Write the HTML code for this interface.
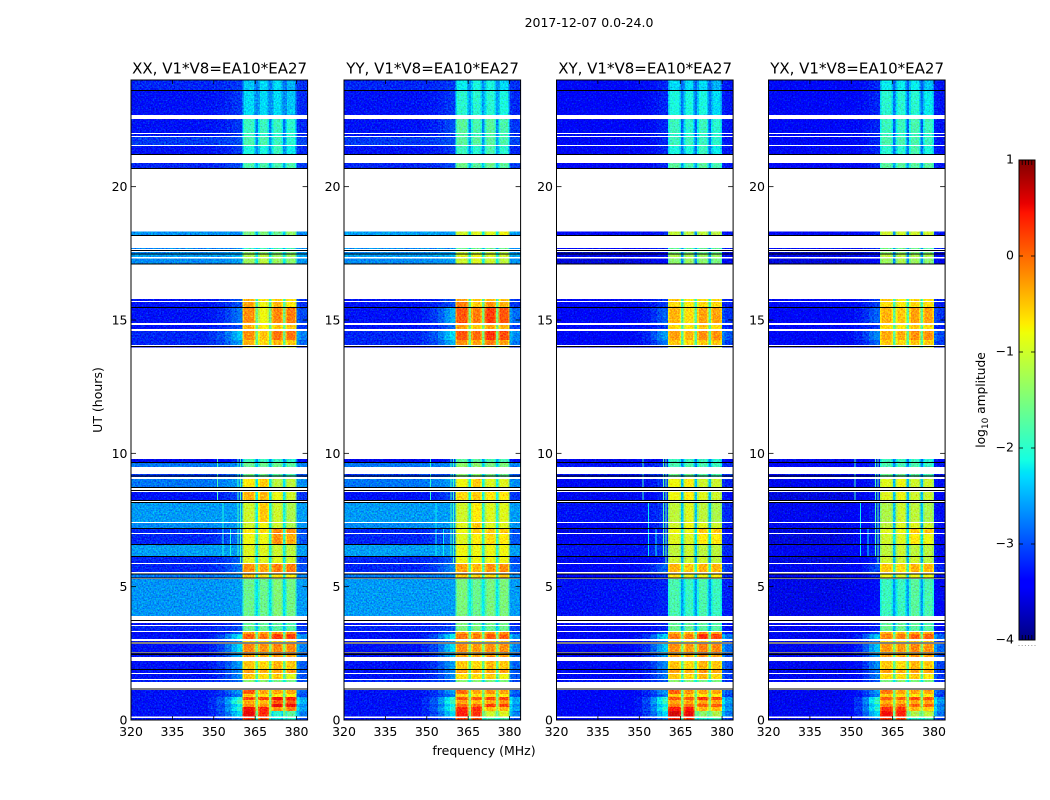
<!DOCTYPE html>
<html>
<head>
<meta charset="utf-8">
<title>2017-12-07 dynamic spectra</title>
<style>
html,body{margin:0;padding:0;background:#fff;}
svg{display:block;}
text{font-family:"DejaVu Sans","Liberation Sans",sans-serif;fill:#000;}
</style>
</head>
<body>
<svg id="figure" xmlns="http://www.w3.org/2000/svg" width="1050" height="800" viewBox="0 0 1050 800">
<defs>
<filter id="speckle" x="0" y="0" width="100%" height="100%" color-interpolation-filters="sRGB">
<feTurbulence type="fractalNoise" baseFrequency="0.62" numOctaves="2" seed="7" result="n"/>
<feColorMatrix in="n" result="m" type="matrix" values="0 0 0 0 0.5  1 0 0 0 0  0 1 0 0 0  0 0 0 0 1"/>
<feComposite in="SourceGraphic" in2="m" operator="arithmetic" k1="0" k2="1" k3="0.8" k4="-0.4" result="c"/>
<feComposite in="c" in2="SourceAlpha" operator="in"/>
</filter>
<linearGradient id="cbar-gradient" x1="0" y1="1" x2="0" y2="0"></linearGradient>
</defs>
<text x="589" y="27" text-anchor="middle" font-size="12.5">2017-12-07 0.0-24.0</text>
<text x="484" y="755" text-anchor="middle" font-size="12.5">frequency (MHz)</text>
<text transform="translate(102 400) rotate(-90)" text-anchor="middle" font-size="12.5">UT (hours)</text>
<text transform="translate(985 400) rotate(-90)" text-anchor="middle" font-size="12.2">log<tspan font-size="9" dy="3">10</tspan><tspan dy="-3"> amplitude</tspan></text>
<g id="panels"></g>
<g id="colorbar"></g>
</svg>
<script>
// ---------- data ----------
const panelTitles = ["XX, V1*V8=EA10*EA27","YY, V1*V8=EA10*EA27","XY, V1*V8=EA10*EA27","YX, V1*V8=EA10*EA27"];
const freqTicks = [320,335,350,365,380];
const hourTicks = [0,5,10,15,20];
const colorTicks = [1,0,-1,-2,-3,-4];
const colorTickLabels = ["1","0","\u22121","\u22122","\u22123","\u22124"];
const freqRange = [320,384];
const hourRange = [0,24];
const colorRange = [-4,1];

// frequency bands (MHz)
const bandStart = [320,348,351,354,356.5,358.5,360.4,361,364.5,365.2,366.1,366.7,369.4,370,371,371.6,374.5,375.1,376,376.6,379.4,380,381];
const bandEnd   = [348,351,354,356.5,358.5,360.4,361,364.5,365.2,366.1,366.7,369.4,370,371,371.6,374.5,375.1,376,376.6,379.4,380,381,384];
// which value of a row each band shows: 2-5 the four sub-bands, 6 gap between them, -1 a mix of off-band and wing
const bandSource = [-1,-1,-1,-1,-1,-1,2,2,2,6,3,3,3,6,4,4,4,6,5,5,5,-1,-1];
const bandWingMix = [0,0.1,0.25,0.5,0.8,1,0,0,0,0,0,0,0,0,0,0,0,0,0,0,0,0.8,0.55];
const bandRim = [0,0,0,0,0,0,-0.3,0,-0.3,0,-0.3,0,-0.3,0,-0.3,0,-0.3,0,-0.3,0,-0.3,0,0];

// time rows (UT hours); anything not listed is blank (flagged)
const rowTop = [24.00,23.59,22.54,21.98,21.86,21.53,20.89,18.32,17.70,17.55,17.46,17.31,15.79,15.68,15.45,14.81,14.59,14.25,14.03,9.79,9.64,9.23,9.04,8.55,8.14,7.39,7.16,6.98,6.56,6.11,5.85,5.48,5.29,3.64,3.53,3.30,3.23,2.96,2.85,2.51,2.21,1.88,1.73,1.50,1.13,0.98,0.86,0.75,0.60,0.49,0.34,0.08];
const rowBottom = [23.63,22.69,22.01,21.90,21.56,21.23,20.70,18.19,17.66,17.49,17.36,17.12,15.71,15.49,14.89,14.66,14.25,14.06,13.97,9.68,9.49,9.11,8.74,8.25,7.43,7.20,7.01,6.60,6.15,5.89,5.55,5.33,3.90,3.56,3.34,3.23,3.04,2.93,2.55,2.36,1.91,1.76,1.54,1.43,0.98,0.86,0.75,0.60,0.49,0.34,0.13,0.00];
const blackLineHours = [23.61,21.21,20.68,18.17,17.61,17.48,17.10,15.47,14.01,9.66,9.15,8.72,8.61,8.23,8.16,7.18,6.58,6.13,5.48,5.33,3.73,2.89,2.52,2.46,1.89,1.16];

// log10 amplitude per row: [off, wing, c1, c2, c3, c4, gap]
const xxLevels = [
[-3.2,-3.1,-2.4,-2.3,-2.3,-2.5,-2.8],[-3.3,-3.1,-2.3,-2.3,-2.3,-2.4,-2.7],[-3.3,-3.1,-1.9,-1.9,-1.9,-2.0,-2.8],[-3.3,-3.1,-1.9,-2.0,-2.0,-2.0,-2.8],
[-3.1,-3.0,-1.8,-1.8,-1.9,-2.0,-2.7],[-3.3,-3.1,-2.1,-2.1,-1.9,-2.2,-2.7],[-3.2,-3.0,-1.8,-1.8,-1.8,-1.8,-2.5],[-2.65,-2.7,-1.5,-1.5,-1.6,-1.35,-2.4],
[-2.7,-2.7,-1.9,-1.9,-1.9,-1.9,-2.5],[-2.7,-2.6,-1.4,-1.4,-1.5,-1.5,-2.3],[-2.6,-2.5,-1.2,-1.1,-1.3,-1.3,-2.2],[-2.7,-2.6,-1.3,-1.1,-1.3,-1.4,-2.2],
[-3.3,-3.0,-0.4,-0.7,-0.5,-0.6,-2.0],[-3.3,-3.0,-0.3,-0.8,-0.4,-0.7,-1.8],[-3.3,-2.8,-0.2,-0.8,-0.15,-0.1,-1.6],[-3.3,-3.0,-0.4,-0.7,-0.5,-0.5,-1.7],
[-3.2,-2.4,-0.2,-0.5,-0.05,-0.05,-1.6],[-3.2,-2.6,-0.4,-0.6,-0.4,-0.5,-1.7],[-3.4,-3.1,-0.9,-0.9,-0.9,-0.9,-2.0],[-3.5,-3.2,-1.9,-1.9,-1.9,-2.0,-2.7],
[-2.8,-2.7,-1.6,-1.6,-1.6,-1.7,-2.4],[-3.1,-2.9,-1.6,-1.6,-1.7,-1.8,-2.5],[-2.8,-2.6,-0.7,-0.5,-1.1,-1.1,-2.2],[-3.3,-3.0,-0.4,-0.4,-0.8,-1.0,-2.2],
[-2.62,-2.6,-1.0,-0.5,-1.0,-1.2,-2.1],[-2.7,-2.6,-1.0,-0.8,-1.0,-1.2,-2.2],[-3.2,-2.8,-0.7,-0.6,-0.15,-0.2,-2.0],[-3.2,-2.8,-0.8,-0.8,-0.2,-0.35,-2.0],
[-2.6,-2.6,-0.9,-0.9,-1.0,-1.1,-2.1],[-3.2,-2.9,-0.9,-0.9,-0.9,-1.0,-2.2],[-3.2,-2.8,-0.2,-0.3,-0.1,-0.1,-1.8],[-2.8,-2.7,-0.5,-0.7,-0.7,-0.7,-2.1],
[-2.65,-2.6,-1.6,-1.6,-1.45,-1.55,-2.25],[-3.3,-3.1,-1.7,-1.7,-1.7,-1.8,-2.6],[-3.2,-3.0,-1.6,-1.6,-1.7,-1.7,-2.4],[-3.4,-2.9,-0.3,-0.3,-0.2,-0.2,-1.9],
[-3.3,-2.2,0.05,-0.05,0.25,0.2,-1.5],[-3.3,-2.7,-0.6,-0.6,-0.5,-0.5,-1.8],[-3.3,-2.3,-0.15,-0.2,-0.15,-0.15,-1.5],[-3.3,-2.5,-0.3,-0.35,-0.25,-0.3,-1.8],
[-3.3,-2.6,-0.5,-0.6,-0.4,-0.5,-1.7],[-3.3,-2.7,-0.3,-0.35,-0.3,-0.3,-1.8],[-3.3,-2.7,-0.5,-0.6,-0.5,-0.9,-1.8],[-3.2,-2.9,-1.4,-1.4,-1.5,-1.5,-2.2],
[-3.3,-2.6,0.1,-0.3,-0.3,-0.3,-1.5],[-3.3,-2.8,-0.5,-0.6,-0.7,-0.7,-1.7],[-3.3,-2.0,0.2,0.25,0.5,0.4,-1.3],[-3.3,-1.8,-0.35,-0.4,0.1,0.1,-1.5],
[-3.3,-2.2,-0.2,-0.2,0.55,0.5,-1.4],[-3.3,-2.0,0.5,0.4,-0.2,-0.1,-1.2],[-3.3,-2.3,0.55,0.35,-2.0,-1.7,-1.6],[-3.3,-2.8,0.3,0.2,-2.2,-2.0,-2.0]];

const yyLevels = [
[-3.2,-3.1,-2.2,-2.1,-2.1,-2.3,-2.7],[-3.3,-3.1,-2.0,-2.0,-2.0,-2.1,-2.6],[-3.3,-3.0,-1.7,-1.8,-1.7,-1.8,-2.7],[-3.3,-3.1,-1.8,-1.9,-1.8,-1.9,-2.7],
[-3.1,-3.0,-1.7,-1.7,-1.7,-1.8,-2.6],[-3.3,-3.1,-1.9,-2.0,-1.8,-2.0,-2.6],[-3.2,-3.0,-1.6,-1.7,-1.6,-1.7,-2.4],[-2.6,-2.6,-1.0,-0.9,-0.9,-0.8,-2.2],
[-2.7,-2.7,-1.6,-1.6,-1.6,-1.6,-2.4],[-2.7,-2.6,-1.1,-1.1,-1.1,-1.2,-2.2],[-2.6,-2.5,-0.9,-0.8,-0.9,-1.0,-2.1],[-2.7,-2.6,-1.0,-0.9,-1.0,-1.1,-2.1],
[-3.3,-3.0,-0.3,-0.5,-0.4,-0.5,-1.9],[-3.3,-3.0,-0.1,-0.5,-0.2,-0.4,-1.7],[-3.3,-2.5,0.1,-0.1,0.25,0.1,-1.5],[-3.3,-2.9,-0.3,-0.5,-0.3,-0.4,-1.6],
[-3.2,-2.3,0.1,0.0,0.3,0.15,-1.5],[-3.2,-2.5,-0.2,-0.3,-0.1,-0.3,-1.6],[-3.4,-3.1,-0.8,-0.8,-0.8,-0.8,-2.0],[-3.5,-3.2,-1.7,-1.7,-1.8,-1.8,-2.6],
[-2.8,-2.7,-1.4,-1.4,-1.5,-1.5,-2.3],[-3.1,-2.9,-1.4,-1.4,-1.5,-1.6,-2.4],[-2.8,-2.6,-0.8,-0.5,-0.9,-0.9,-2.1],[-3.3,-3.0,-0.6,-0.5,-0.7,-0.7,-2.1],
[-2.62,-2.6,-1.0,-0.7,-0.9,-0.9,-2.0],[-2.7,-2.6,-0.9,-0.5,-0.9,-0.9,-2.1],[-3.2,-2.8,-0.8,-0.5,-0.5,-0.5,-1.9],[-3.2,-2.8,-0.9,-0.7,-0.6,-0.7,-1.9],
[-2.6,-2.6,-0.8,-0.8,-0.8,-0.8,-2.0],[-3.2,-2.9,-0.8,-0.8,-0.8,-0.8,-2.1],[-3.2,-2.7,-0.3,-0.4,-0.2,-0.2,-1.8],[-2.8,-2.7,-0.5,-0.6,-0.6,-0.5,-2.0],
[-2.62,-2.6,-1.5,-1.6,-1.5,-1.5,-2.2],[-3.3,-3.1,-1.5,-1.6,-1.6,-1.6,-2.5],[-3.2,-3.0,-1.5,-1.5,-1.6,-1.6,-2.3],[-3.4,-2.9,-0.3,-0.3,-0.2,-0.2,-1.9],
[-3.3,-2.2,-0.05,-0.1,0.1,0.05,-1.5],[-3.3,-2.7,-0.6,-0.6,-0.5,-0.5,-1.8],[-3.3,-2.3,-0.2,-0.25,-0.2,-0.2,-1.5],[-3.3,-2.5,-0.3,-0.35,-0.25,-0.3,-1.8],
[-3.3,-2.6,-0.5,-0.6,-0.4,-0.5,-1.7],[-3.3,-2.7,-0.3,-0.35,-0.3,-0.3,-1.8],[-3.3,-2.7,-0.6,-0.6,-0.5,-0.8,-1.8],[-3.2,-2.9,-1.4,-1.4,-1.5,-1.5,-2.2],
[-3.3,-2.6,0.0,-0.3,-0.2,-0.3,-1.5],[-3.3,-2.8,-0.5,-0.6,-0.6,-0.7,-1.7],[-3.3,-2.0,0.1,0.1,0.2,0.2,-1.3],[-3.3,-1.9,-0.3,-0.4,-0.3,-0.2,-1.5],
[-3.3,-2.2,0.0,0.0,0.25,0.2,-1.4],[-3.3,-2.0,0.35,0.35,-0.4,-0.4,-1.2],[-3.3,-2.3,0.4,0.3,-1.0,-0.9,-1.6],[-3.3,-2.8,0.2,0.2,-1.8,-1.8,-2.0]];

const xyLevels = [
[-3.4,-3.2,-2.3,-2.3,-2.3,-2.5,-2.9],[-3.4,-3.2,-2.1,-2.1,-2.1,-2.3,-2.8],[-3.4,-3.2,-1.9,-2.0,-1.9,-2.0,-2.9],[-3.4,-3.2,-2.0,-2.0,-2.0,-2.0,-2.9],
[-3.4,-3.2,-1.9,-1.9,-1.9,-2.0,-2.8],[-3.4,-3.2,-2.1,-2.1,-1.9,-2.2,-2.8],[-3.4,-3.2,-1.7,-1.8,-1.7,-1.8,-2.6],[-3.4,-3.2,-1.1,-1.1,-1.1,-1.1,-2.7],
[-3.4,-3.2,-1.7,-1.7,-1.7,-1.7,-2.6],[-3.7,-3.5,-1.5,-1.5,-1.6,-1.6,-2.7],[-3.5,-3.3,-1.2,-1.2,-1.3,-1.3,-2.6],[-3.6,-3.4,-1.4,-1.3,-1.4,-1.5,-2.7],
[-3.4,-3.1,-0.5,-0.7,-0.6,-0.6,-2.0],[-3.4,-3.1,-0.6,-0.7,-0.6,-0.6,-1.9],[-3.4,-2.9,-0.4,-0.6,-0.3,-0.3,-1.7],[-3.4,-3.1,-0.6,-0.7,-0.5,-0.6,-1.8],
[-3.4,-2.6,-0.3,-0.4,-0.2,-0.2,-1.7],[-3.4,-2.8,-0.5,-0.6,-0.5,-0.5,-1.8],[-3.5,-3.2,-0.9,-0.9,-0.9,-0.9,-2.1],[-3.5,-3.3,-1.9,-1.9,-1.9,-2.0,-2.8],
[-3.3,-3.1,-1.8,-1.8,-1.8,-1.9,-2.7],[-3.3,-3.1,-1.6,-1.6,-1.7,-1.8,-2.7],[-3.4,-3.1,-0.8,-0.7,-1.0,-1.0,-2.4],[-3.5,-3.2,-0.8,-0.7,-0.9,-1.0,-2.4],
[-3.3,-3.1,-1.1,-0.9,-1.1,-1.2,-2.4],[-3.4,-3.1,-1.0,-0.8,-0.9,-1.0,-2.5],[-3.6,-3.2,-0.8,-0.8,-0.5,-0.5,-2.2],[-3.4,-3.1,-0.9,-0.9,-0.7,-0.7,-2.2],
[-3.3,-3.1,-1.1,-1.0,-1.1,-1.1,-2.4],[-3.5,-3.2,-1.0,-1.0,-1.0,-1.1,-2.5],[-3.4,-2.9,-0.4,-0.5,-0.4,-0.4,-1.9],[-3.4,-3.1,-0.7,-0.8,-0.8,-0.7,-2.3],
[-3.3,-3.2,-1.8,-1.9,-1.8,-1.9,-2.6],[-3.4,-3.2,-1.7,-1.7,-1.7,-1.8,-2.6],[-3.4,-3.2,-1.6,-1.6,-1.7,-1.7,-2.5],[-3.5,-3.0,-0.4,-0.4,-0.2,-0.3,-2.0],
[-3.4,-2.3,-0.1,-0.1,0.3,0.2,-1.5],[-3.4,-2.8,-0.6,-0.6,-0.5,-0.5,-1.8],[-3.4,-2.4,-0.2,-0.25,-0.1,-0.15,-1.5],[-3.4,-2.6,-0.3,-0.35,-0.2,-0.3,-1.8],
[-3.4,-2.7,-0.5,-0.6,-0.4,-0.5,-1.7],[-3.4,-2.8,-0.3,-0.35,-0.25,-0.3,-1.8],[-3.4,-2.8,-0.5,-0.6,-0.4,-0.6,-1.8],[-3.3,-3.0,-1.4,-1.4,-1.5,-1.5,-2.2],
[-3.4,-2.6,0.05,-0.2,-0.3,-0.3,-1.5],[-3.4,-2.8,-0.5,-0.5,-0.7,-0.7,-1.7],[-3.4,-2.0,0.1,0.1,0.3,0.2,-1.3],[-3.4,-1.9,-0.3,-0.3,-0.3,-0.3,-1.5],
[-3.4,-2.2,-0.1,0.0,0.1,0.1,-1.4],[-3.4,-2.0,0.45,0.45,-0.4,-0.4,-1.2],[-3.4,-2.3,0.65,0.55,-1.4,-1.2,-1.6],[-3.4,-2.8,0.4,0.3,-2.0,-1.9,-2.0]];

const yxLevels = [
[-3.4,-3.2,-2.2,-2.2,-2.2,-2.4,-2.9],[-3.4,-3.2,-2.0,-2.0,-2.0,-2.2,-2.8],[-3.4,-3.2,-1.9,-1.9,-1.8,-1.9,-2.9],[-3.4,-3.2,-1.9,-2.0,-1.9,-2.0,-2.9],
[-3.4,-3.2,-1.8,-1.8,-1.8,-1.9,-2.8],[-3.4,-3.2,-2.0,-2.0,-1.8,-2.1,-2.8],[-3.4,-3.2,-1.7,-1.7,-1.7,-1.7,-2.6],[-3.4,-3.2,-1.0,-1.0,-1.0,-1.0,-2.7],
[-3.4,-3.2,-1.6,-1.6,-1.6,-1.6,-2.6],[-3.7,-3.5,-1.4,-1.4,-1.5,-1.5,-2.7],[-3.5,-3.3,-1.1,-1.1,-1.2,-1.2,-2.6],[-3.6,-3.4,-1.3,-1.2,-1.3,-1.4,-2.7],
[-3.4,-3.1,-0.5,-0.7,-0.6,-0.6,-2.0],[-3.4,-3.1,-0.6,-0.7,-0.6,-0.6,-1.9],[-3.4,-2.9,-0.4,-0.5,-0.3,-0.3,-1.7],[-3.4,-3.1,-0.6,-0.7,-0.5,-0.6,-1.8],
[-3.4,-2.7,-0.35,-0.35,-0.2,-0.2,-1.7],[-3.4,-2.9,-0.5,-0.6,-0.5,-0.5,-1.8],[-3.5,-3.2,-0.9,-0.9,-0.9,-0.9,-2.1],[-3.5,-3.3,-1.9,-1.9,-1.9,-2.0,-2.8],
[-3.4,-3.2,-1.8,-1.8,-1.8,-1.9,-2.7],[-3.5,-3.2,-1.6,-1.6,-1.7,-1.8,-2.7],[-3.5,-3.2,-0.9,-0.8,-1.0,-1.0,-2.4],[-3.6,-3.3,-0.9,-0.8,-1.0,-1.0,-2.4],
[-3.5,-3.2,-1.2,-1.0,-1.1,-1.2,-2.4],[-3.5,-3.2,-1.1,-0.9,-0.9,-1.0,-2.5],[-3.6,-3.2,-0.9,-0.8,-0.5,-0.5,-2.2],[-3.6,-3.2,-1.0,-0.9,-0.7,-0.8,-2.2],
[-3.5,-3.2,-1.1,-1.0,-1.1,-1.1,-2.4],[-3.6,-3.2,-1.0,-1.0,-1.0,-1.1,-2.5],[-3.5,-3.0,-0.5,-0.6,-0.4,-0.4,-1.9],[-3.5,-3.2,-0.8,-0.9,-0.8,-0.8,-2.3],
[-3.55,-3.3,-1.9,-1.9,-1.7,-1.8,-2.6],[-3.5,-3.2,-1.7,-1.7,-1.7,-1.8,-2.6],[-3.5,-3.2,-1.6,-1.6,-1.7,-1.7,-2.5],[-3.5,-3.0,-0.4,-0.4,-0.3,-0.3,-2.0],
[-3.5,-2.4,-0.15,-0.1,0.05,0.05,-1.5],[-3.5,-2.8,-0.6,-0.6,-0.5,-0.5,-1.8],[-3.5,-2.4,-0.25,-0.25,-0.15,-0.2,-1.5],[-3.5,-2.6,-0.3,-0.35,-0.25,-0.3,-1.8],
[-3.5,-2.7,-0.5,-0.6,-0.4,-0.5,-1.7],[-3.5,-2.8,-0.3,-0.35,-0.3,-0.3,-1.8],[-3.5,-2.8,-0.6,-0.6,-0.5,-0.7,-1.8],[-3.4,-3.0,-1.5,-1.4,-1.5,-1.5,-2.2],
[-3.5,-2.6,-0.05,-0.3,-0.3,-0.3,-1.5],[-3.5,-2.8,-0.5,-0.6,-0.7,-0.7,-1.7],[-3.5,-2.0,0.05,0.05,0.2,0.15,-1.3],[-3.5,-1.9,-0.35,-0.35,-0.3,-0.3,-1.5],
[-3.5,-2.2,-0.1,-0.05,0.05,0.05,-1.4],[-3.5,-2.0,0.3,0.3,-0.4,-0.5,-1.2],[-3.5,-2.3,0.5,0.4,-1.2,-1.1,-1.6],[-3.5,-2.8,0.3,0.2,-2.0,-1.9,-2.0]];

const panelLevels = [xxLevels,yyLevels,xyLevels,yxLevels];

// narrow interference channels: MHz, hour range, level per panel
const rfiFreq  = [351.3,353.3,356.1,358.8,359.7];
const rfiTop   = [9.79,8.14,7.16,9.79,9.79];
const rfiBottom= [8.25,5.90,5.90,5.90,5.60];
const rfiLevels = [[-1.8,-2.1,-2.1,-1.9,-1.8],[-2.0,-2.2,-2.2,-1.9,-1.8],[-1.9,-2.2,-2.2,-1.7,-1.7],[-1.9,-2.2,-2.2,-1.8,-1.7]];

// ---------- layout ----------
const panelLefts = [131,344,556.5,768.5];
const panelWidth = 176.6;
const plotTop = 80, plotBottom = 720;
const cbarLeft = 1019, cbarRight = 1035, cbarTop = 160, cbarBottom = 640;
const NS = "http://www.w3.org/2000/svg";

function xScale(mhz, left){ return left + (mhz - freqRange[0]) / (freqRange[1] - freqRange[0]) * panelWidth; }
function yScale(hour){ return plotBottom - (hour - hourRange[0]) / (hourRange[1] - hourRange[0]) * (plotBottom - plotTop); }
function cScale(v){ return cbarBottom - (v - colorRange[0]) / (colorRange[1] - colorRange[0]) * (cbarBottom - cbarTop); }

function clamp(v){ return Math.max(0, Math.min(1, v)); }
function jet(v){
  const t = clamp((v - colorRange[0]) / (colorRange[1] - colorRange[0]));
  let r, g, b;
  if (t < 0.35) r = 0; else if (t < 0.66) r = (t - 0.35) / 0.31; else if (t < 0.89) r = 1; else r = 1 - (t - 0.89) / 0.11 * 0.5;
  if (t < 0.125) g = 0; else if (t < 0.375) g = (t - 0.125) / 0.25; else if (t < 0.64) g = 1; else if (t < 0.91) g = 1 - (t - 0.64) / 0.27; else g = 0;
  if (t < 0.11) b = 0.5 + t / 0.11 * 0.5; else if (t < 0.34) b = 1; else if (t < 0.65) b = 1 - (t - 0.34) / 0.31; else b = 0;
  return "rgb(" + Math.round(r * 255) + "," + Math.round(g * 255) + "," + Math.round(b * 255) + ")";
}
function cellLevel(row, b){
  if (bandSource[b] < 0) return row[0] + (row[1] - row[0]) * bandWingMix[b];
  return row[bandSource[b]] + bandRim[b];
}
function make(parent, tag, attrs){
  const el = document.createElementNS(NS, tag);
  for (const k in attrs) el.setAttribute(k, attrs[k]);
  parent.appendChild(el);
  return el;
}

const panelsRoot = document.getElementById("panels");
panelLefts.forEach(function(left, p){
  const right = left + panelWidth;
  const panel = make(panelsRoot, "g", {});
  
  

  // heatmap cells
  const cells = make(panel, "g", {filter:"url(#speckle)", "shape-rendering":"crispEdges"});
  
  
  panelLevels[p].forEach(function(row, r){
    const y0 = yScale(rowTop[r]), y1 = yScale(rowBottom[r]);
    bandStart.forEach(function(fs, b){
      const x0 = xScale(fs, left), x1 = xScale(bandEnd[b], left);
      const cell = make(cells, "rect", {x:x0, y:y0, width:x1 - x0, height:y1 - y0, fill:jet(cellLevel(row, b))});
      
      
    });
  });

  // interference channels, shown only where a row has data
  rfiFreq.forEach(function(f, i){
    rowTop.forEach(function(t, r){
      if (t > rfiTop[i] || rowBottom[r] < rfiBottom[i]) return;
      const xc = xScale(f, left);
      const spike = make(panel, "rect", {x:xc - 0.6, y:yScale(t), width:1.2, height:yScale(rowBottom[r]) - yScale(t), fill:jet(rfiLevels[p][i]), "shape-rendering":"crispEdges"});
      
      
    });
  });

  // flagged black lines
  blackLineHours.forEach(function(h){
    const y = yScale(h);
    const line = make(panel, "line", {x1:left, x2:right, y1:y, y2:y, stroke:"#000", "stroke-width":1, "shape-rendering":"crispEdges"});
    
    
  });

  // frame
  const frame = make(panel, "rect", {x:left, y:plotTop, width:panelWidth, height:plotBottom - plotTop, fill:"none", stroke:"#000", "stroke-width":1});
  
  

  // x ticks
  freqTicks.forEach(function(f){
    const x = xScale(f, left);
    [[plotBottom, plotBottom - 4],[plotTop, plotTop + 4]].forEach(function(s){
      const t = make(panel, "line", {x1:x, x2:x, y1:s[0], y2:s[1], stroke:"#000", "stroke-width":0.8});
      
      
    });
    const lab = make(panel, "text", {x:x, y:736, "text-anchor":"middle", "font-size":12.5});
    lab.textContent = f;
    
    
  });

  // y ticks
  hourTicks.forEach(function(h){
    const y = yScale(h);
    [[left, left + 5],[right, right - 5]].forEach(function(s){
      const t = make(panel, "line", {x1:s[0], x2:s[1], y1:y, y2:y, stroke:"#000", "stroke-width":0.8});
      
      
    });
    const lab = make(panel, "text", {x:left - 3.5, y:y + 4.5, "text-anchor":"end", "font-size":12.5});
    lab.textContent = h;
    
    
  });

  const title = make(panel, "text", {x:left + panelWidth / 2 + 0.3, y:73.5, "text-anchor":"middle", "font-size":15});
  title.textContent = panelTitles[p];
  
  
});

// ---------- colour bar ----------
const cbarRoot = document.getElementById("colorbar");
const grad = document.getElementById("cbar-gradient");
const stopFractions = [0,0.11,0.125,0.34,0.35,0.375,0.64,0.65,0.66,0.89,0.91,1];
stopFractions.forEach(function(fr){
  make(grad, "stop", {offset:fr, "stop-color":jet(colorRange[0] + fr * (colorRange[1] - colorRange[0]))});
});
const bar = make(cbarRoot, "rect", {x:cbarLeft, y:cbarTop, width:cbarRight - cbarLeft, height:cbarBottom - cbarTop, fill:"url(#cbar-gradient)", stroke:"#000", "stroke-width":1});


colorTicks.forEach(function(v, i){
  const y = cScale(v);
  [[cbarLeft, cbarLeft + 4],[cbarRight, cbarRight - 4]].forEach(function(s){
    const t = make(cbarRoot, "line", {x1:s[0], x2:s[1], y1:y, y2:y, stroke:"#000", "stroke-width":0.8});
    
    
  });
  const lab = make(cbarRoot, "text", {x:1014, y:y + 3.5, "text-anchor":"end", "font-size":12.5});
  lab.textContent = colorTickLabels[i];
  
  
});
// small edge ticks and tiny labels along the bar's short sides
const edgeTickFractions = [0,0.2,0.4,0.6,0.8,1];
edgeTickFractions.forEach(function(fr){
  const x = cbarLeft + fr * (cbarRight - cbarLeft);
  [[cbarTop, cbarTop + 5],[cbarBottom, cbarBottom - 5]].forEach(function(s){
    const t = make(cbarRoot, "line", {x1:x, x2:x, y1:s[0], y2:s[1], stroke:"#000", "stroke-width":0.8});
    
    
  });
  const dot = make(cbarRoot, "rect", {x:x - 0.5, y:645, width:1, height:1, fill:"#999"});
  
  
});
</script>
</body>
</html>
